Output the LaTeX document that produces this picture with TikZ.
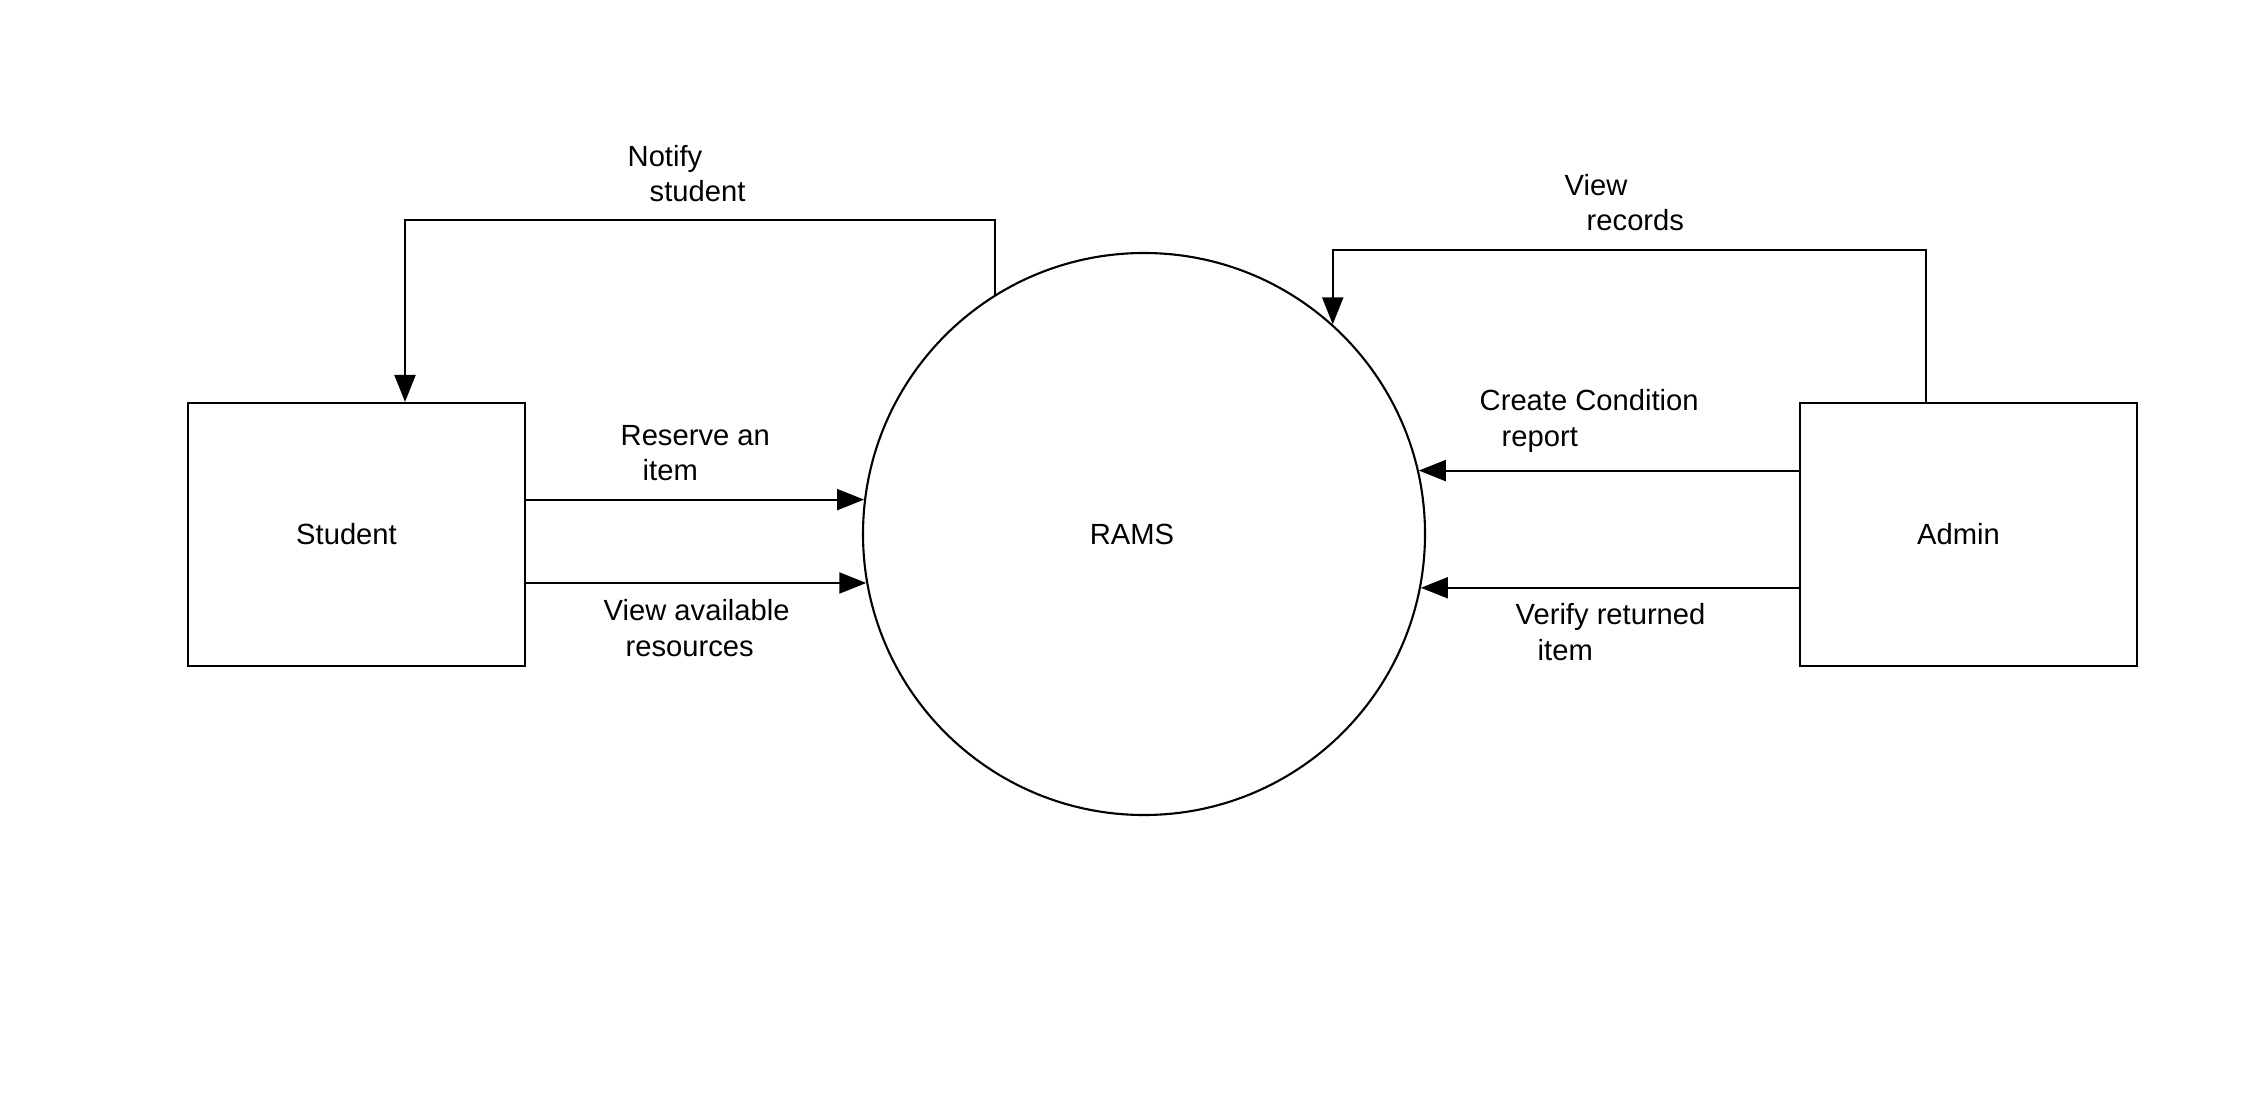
\documentclass[tikz,border=0pt]{standalone}
\usepackage{fontspec}
\setmainfont{Liberation Sans}
\usepackage{tikz}
\usetikzlibrary{arrows.meta,positioning,shapes}
\tikzset{%
	entity/.style   = {draw, rectangle, line width=0.6pt, minimum width=3.37cm, minimum height=2.63cm, text centered},
	process/.style  = {draw, circle, line width=0.6pt, minimum size=5.62cm, inner sep=0pt, text centered},
	flow/.style     = {line width=0.6pt, -{Triangle[length=2.7mm,width=2.1mm]}},
	flowlabel/.style= {anchor=west, align=left, inner sep=0pt},
}
\newcommand{\ind}{\hspace*{0.22cm}}

\begin{document}
\begin{tikzpicture}[font=\fontsize{8.3}{10}\selectfont]
		\useasboundingbox (0,0) rectangle (22.5,-11.12);
		
		% entities and process
		\node[entity] (student) at (3.565,-5.345) {\hspace*{-0.2cm}Student};
		\node[entity] (admin) at (19.685,-5.345) {\hspace*{-0.2cm}Admin};
		\node[process] (rams) at (11.44,-5.34) {\hspace*{-0.24cm}RAMS};
		
		% student side
		\draw[flow] (student.east |- rams.173.3) -- (rams.173.3);
		\draw[flow] (student.east |- rams.190) -- (rams.190);
		\coordinate (ntop) at (4.05,-2.20);
		\draw[flow] (rams.122.3) |- (ntop) -- (ntop |- student.north);
		
		% admin side
		\draw[flow] (admin.west |- rams.13.6) -- (rams.13.6);
		\draw[flow] (admin.west |- rams.-11.4) -- (rams.-11.4);
		\coordinate (vtop) at (19.26,-2.50);
		\draw[flow] (vtop |- admin.north) |- (vtop -| rams.48) -- (rams.48);
		
		% labels
		\node[flowlabel] (lnotify) at (6.27,-1.735) {Notify\\ \ind student};
		\node[flowlabel] (lreserve) at (6.20,-4.53) {Reserve an\\ \ind item};
		\node[flowlabel] (lview) at (6.03,-6.28) {View available\\ \ind resources};
		\node[flowlabel] (lrecords) at (15.64,-2.03) {View\\ \ind records};
		\node[flowlabel] (lcreate) at (14.79,-4.21) {Create Condition\\ \ind report};
		\node[flowlabel] (lverify) at (15.15,-6.32) {Verify returned\\ \ind item};
\end{tikzpicture}
\end{document}
